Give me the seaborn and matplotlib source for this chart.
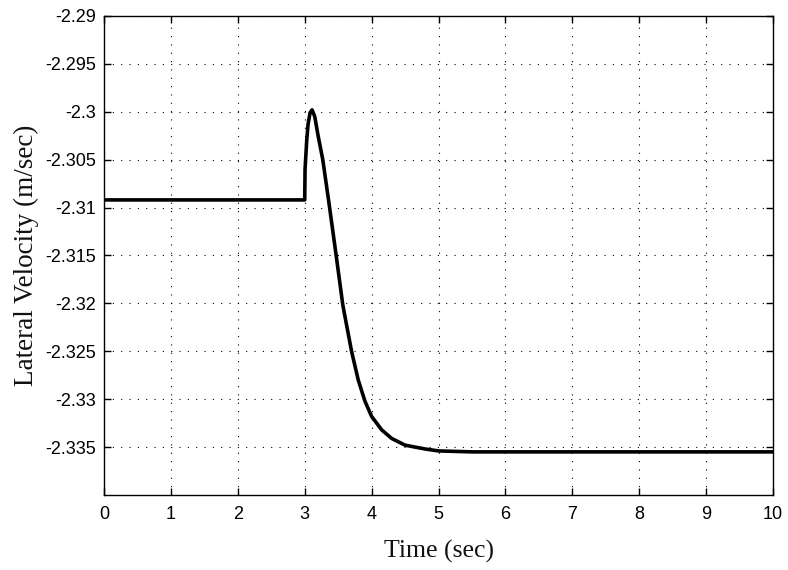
import matplotlib
matplotlib.use("Agg")
import matplotlib.pyplot as plt
import seaborn as sns
import pandas as pd
import numpy as np

time_s = [0.0, 3.0, 3.005, 3.03, 3.05, 3.08, 3.11, 3.15, 3.2, 3.27, 3.37, 3.47, 3.57,
          3.7, 3.8, 3.9, 4.0, 4.15, 4.3, 4.5, 4.8, 5.0, 5.5, 10.0]
lateral_velocity = [-2.3092, -2.3092, -2.3060, -2.3030, -2.3013, -2.3001, -2.2998, -2.3005,
                    -2.3025, -2.3050, -2.3099, -2.3150, -2.3202, -2.3250, -2.3280, -2.3302,
                    -2.3318, -2.3332, -2.3341, -2.3348, -2.3352, -2.3354, -2.3355, -2.3355]
x_ticks = [0, 1, 2, 3, 4, 5, 6, 7, 8, 9, 10]
y_ticks = [-2.335, -2.33, -2.325, -2.32, -2.315, -2.31, -2.305, -2.3, -2.295, -2.29]
y_tick_labels = ["-2.335", "-2.33", "-2.325", "-2.32", "-2.315", "-2.31", "-2.305", "-2.3", "-2.295", "-2.29"]

df = pd.DataFrame({"t": time_s, "v": lateral_velocity})

sns.set_style("white")
fig = plt.figure(figsize=(7.88, 5.70), dpi=100)
ax = fig.add_axes([0.132, 0.1316, 0.849, 0.8404])

sns.lineplot(data=df, x="t", y="v", ax=ax, color="black", linewidth=2.6, estimator=None, sort=False)

ax.set_xlim(0, 10)
ax.set_ylim(-2.34, -2.29)
ax.set_xticks(x_ticks)
ax.set_xticklabels([str(v) for v in x_ticks])
ax.set_yticks(y_ticks)
ax.set_yticklabels(y_tick_labels)

ax.grid(True, color="black", linestyle=(0, (1, 6.5)), linewidth=0.8)
ax.tick_params(direction="in", length=5, width=1, top=True, right=True, bottom=True, left=True,
               labelsize=13, colors="black")
ax.tick_params(axis="x", pad=8)
ax.tick_params(axis="y", pad=6)
for lab in ax.get_xticklabels() + ax.get_yticklabels():
    lab.set_family("Liberation Sans")
for s in ax.spines.values():
    s.set_color("black")
    s.set_linewidth(1.0)

ax.set_xlabel("Time (sec)", family="Liberation Serif", fontsize=18.5, color="#111111", labelpad=12)
ax.set_ylabel("Lateral Velocity (m/sec)", family="Liberation Serif", fontsize=19.5, color="#111111", labelpad=4)

fig.savefig("out.png", dpi=100)
